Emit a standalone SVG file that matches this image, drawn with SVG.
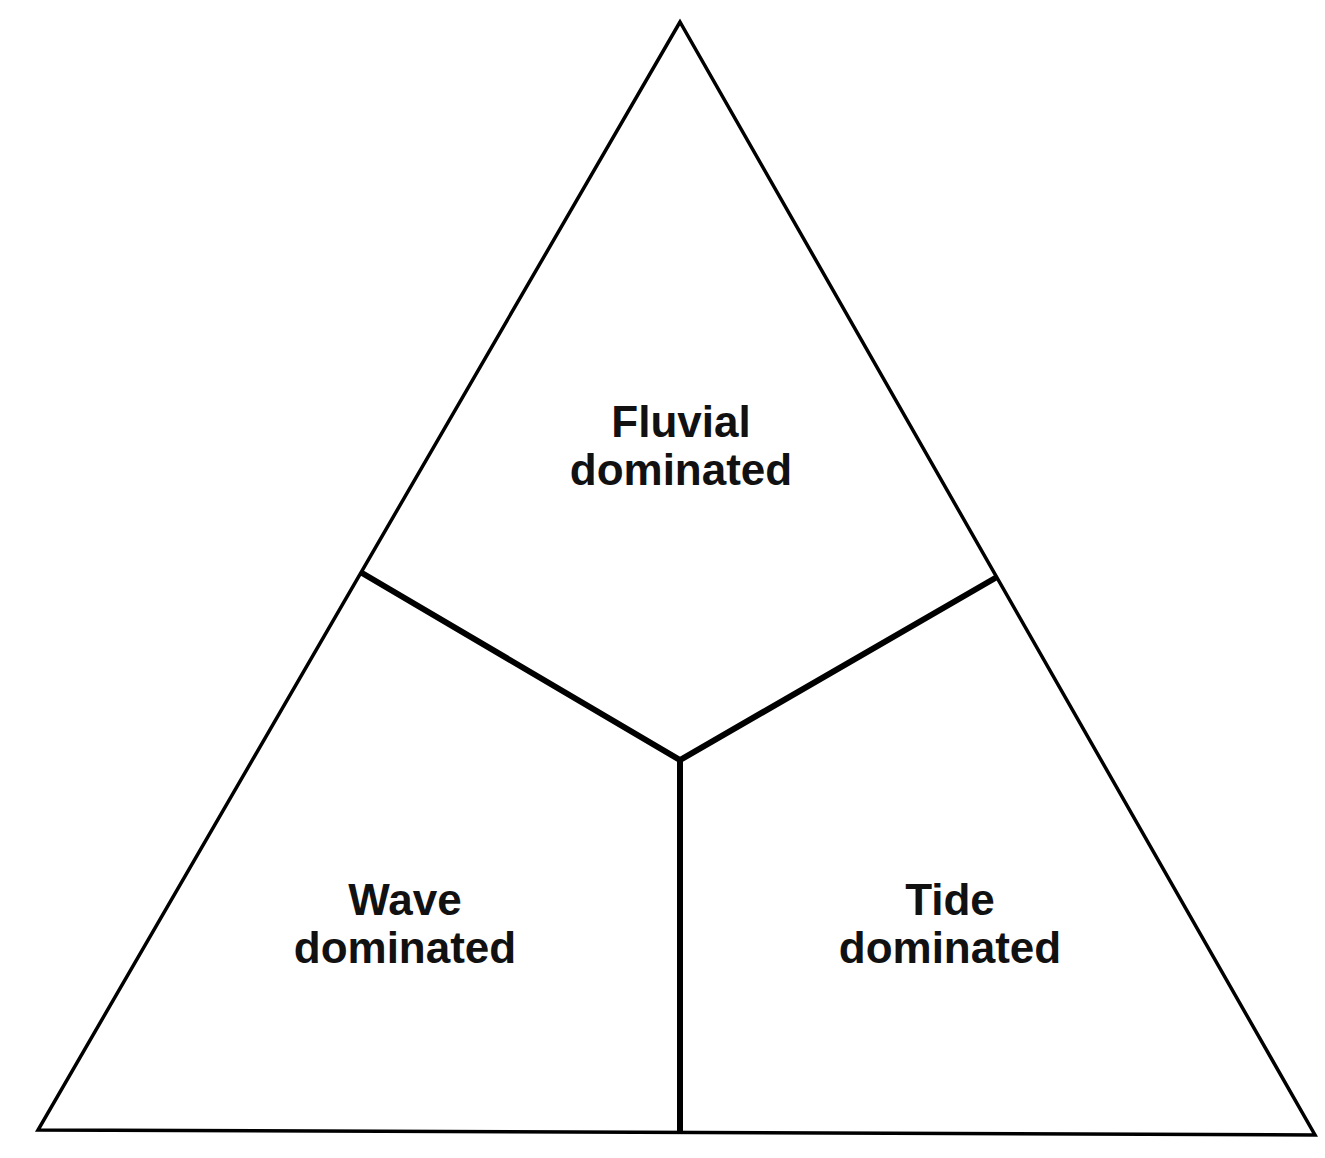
<svg xmlns="http://www.w3.org/2000/svg" width="1325" height="1158" viewBox="0 0 1325 1158">
<style>
.outline{fill:none;stroke:#000;stroke-width:3.5;stroke-linejoin:miter}
.div{fill:none;stroke:#000;stroke-width:6;stroke-linejoin:miter}
.lbl{font-family:"Liberation Sans",Arial,sans-serif;font-weight:bold;font-size:44px;fill:#111;text-anchor:middle}
</style>
<rect width="1325" height="1158" fill="#fff"/>
<g id="connectors">
<polygon class="outline" points="680,22 38,1130 1315,1135"/>
<polyline class="div" points="362,573 680,760 997,577"/>
<line class="div" x1="680" y1="760" x2="680" y2="1132"/>
</g>
<g id="fluvial">
<text class="lbl" x="681" y="437">Fluvial</text>
<text class="lbl" x="681" y="485">dominated</text>
</g>
<g id="wave">
<text class="lbl" x="405" y="915">Wave</text>
<text class="lbl" x="405" y="963">dominated</text>
</g>
<g id="tide">
<text class="lbl" x="950" y="915">Tide</text>
<text class="lbl" x="950" y="963">dominated</text>
</g>
</svg>
